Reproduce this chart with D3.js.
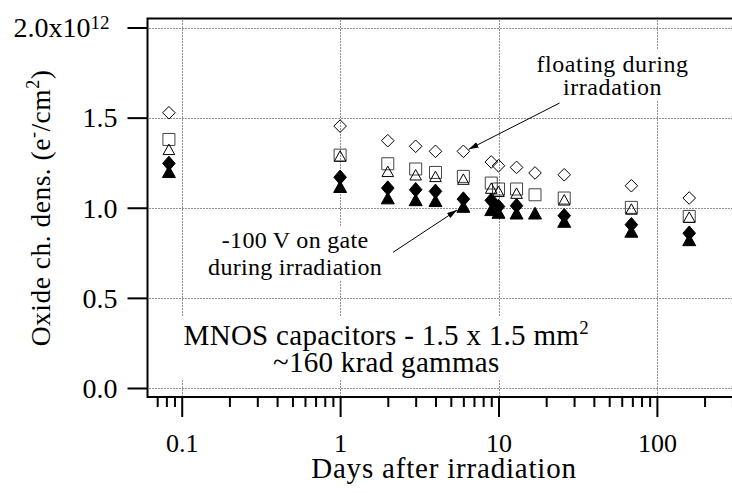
<!DOCTYPE html>
<html>
<head>
<meta charset="utf-8">
<script src="https://cdn.jsdelivr.net/npm/d3@7"></script>
<style>
  body { margin: 0; background: #fff; }
  svg text { font-family: "Liberation Serif", "Times New Roman", serif; fill: #000; }
</style>
</head>
<body>
<svg id="chart" width="732" height="493"></svg>
<script>
// days after irradiation (x) and oxide charge density in units of 1e12 e-/cm2
const days = [0.083, 1, 2, 3, 4, 6, 9, 10, 13, 17, 26, 69, 160];
const floatDiamond  = [1.527, 1.453, 1.372, 1.341, 1.313, 1.313, 1.254, 1.233, 1.224, 1.193, 1.183, 1.122, 1.054];
const floatSquare   = [1.379, 1.292, 1.244, 1.215, 1.196, 1.174, 1.137, 1.104, 1.104, 1.072, 1.054, 1.002, 0.952];
const floatTriangle = [1.324, 1.287, 1.202, 1.183, 1.174, 1.159, 1.109, 1.091, 1.081, null, 1.044, 0.993, 0.948];
const gateDiamond   = [1.246, 1.169, 1.109, 1.100, 1.091, 1.048, 1.041, 1.007, 1.011, null, 0.956, 0.906, 0.859];
const gateTriangle  = [1.200, 1.117, 1.054, 1.044, 1.039, 1.007, 0.989, 0.974, 0.970, 0.970, 0.924, 0.869, 0.822];

const xTicks = [0.1, 1, 10, 100];
const xTickLabels = ["0.1", "1", "10", "100"];
const xMinorTicks = [0.07, 0.08, 0.09, 0.2, 0.3, 0.4, 0.5, 0.6, 0.7, 0.8, 0.9,
  2, 3, 4, 5, 6, 7, 8, 9, 20, 30, 40, 50, 60, 70, 80, 90, 200, 300];
const yTicks = [0, 0.5, 1, 1.5, 2];
const yTickLabels = ["0.0", "0.5", "1.0", "1.5", "2.0x10"];

const svg = d3.select("#chart");
const plotL = 147.5, plotT = 18.5, plotR = 745, plotB = 397;

const x = d3.scaleLog().domain([0.0608, 360]).range([plotL, plotR]);
const y = d3.scaleLinear().domain([-0.05, 2.05]).range([plotB, plotT]);
const px = v => Math.round(v) + 0.5;

// dotted grid
const grid = svg.append("g")
  .attr("stroke", "#222")
  .attr("stroke-width", 1)
  .attr("stroke-dasharray", "1,2");
grid.selectAll("line.gx").data(xTicks).join("line").attr("class", "gx")
  .attr("x1", d => px(x(d))).attr("x2", d => px(x(d)))
  .attr("y1", plotT + 2).attr("y2", plotB);
grid.selectAll("line.gy").data(yTicks).join("line").attr("class", "gy")
  .attr("x1", plotL + 2).attr("x2", plotR)
  .attr("y1", d => px(y(d))).attr("y2", d => px(y(d)));

// text note with white box behind it (hides grid)
function note(cx, baselines, lines, size, spacing) {
  const g = svg.append("g");
  const t = g.append("text")
    .attr("text-anchor", "middle")
    .style("font-size", size + "px")
    .style("letter-spacing", spacing + "px");
  lines.forEach((ln, i) => {
    const ts = t.append("tspan").attr("x", x(cx)).attr("y", y(baselines[i]));
    if (typeof ln === "string") ts.text(ln);
    else {
      ts.text(ln[0]);
      t.append("tspan").attr("dy", -11).style("font-size", (size * 0.65) + "px").text(ln[1]);
    }
  });
  const b = t.node().getBBox();
  g.insert("rect", "text")
    .attr("x", b.x - 2).attr("y", b.y - 1)
    .attr("width", b.width + 4).attr("height", b.height + 2)
    .attr("fill", "#fff");
  return g;
}

note(52.5, [1.754, 1.625], ["floating during", "irradation"], 24, 0.6);
note(0.52, [0.776, 0.627], ["-100 V on gate", "during irradiation"], 24, 0.3);
note(1.955, [0.2385, 0.09], [["MNOS capacitors - 1.5 x 1.5 mm", "2"], "~160 krad gammas"], 29, 0.3);

// arrows
svg.append("defs").append("marker")
  .attr("id", "head").attr("viewBox", "0 0 10 6")
  .attr("refX", 10).attr("refY", 3)
  .attr("markerWidth", 10).attr("markerHeight", 6)
  .attr("markerUnits", "userSpaceOnUse")
  .attr("orient", "auto")
  .append("path").attr("d", "M0,0L10,3L0,6Z").attr("fill", "#000");

const arrows = [
  { from: [24.3, 1.581], to: [6.48, 1.324] },
  { from: [2.16, 0.753], to: [5.47, 0.987] }
];
svg.selectAll("line.arrow").data(arrows).join("line").attr("class", "arrow")
  .attr("x1", d => x(d.from[0])).attr("y1", d => y(d.from[1]))
  .attr("x2", d => x(d.to[0])).attr("y2", d => y(d.to[1]))
  .attr("stroke", "#000").attr("stroke-width", 1)
  .attr("marker-end", "url(#head)");

// marker shapes (size = half width)
const shapes = {
  diamond: { draw(c, r) { c.moveTo(0, -r); c.lineTo(r, 0); c.lineTo(0, r); c.lineTo(-r, 0); c.closePath(); } },
  square: { draw(c, r) { c.rect(-r, -r, 2 * r, 2 * r); } },
  triangle: { draw(c, r) { const h = r * 0.9; c.moveTo(0, -h); c.lineTo(r, h); c.lineTo(-r, h); c.closePath(); } },
  tallDiamond: { draw(c, r) { const h = r * 1.15; c.moveTo(0, -h); c.lineTo(r, 0); c.lineTo(0, h); c.lineTo(-r, 0); c.closePath(); } }
};

const series = [
  { values: gateTriangle, shape: shapes.triangle, r: 6.5, fill: "#000", stroke: "#000" },
  { values: gateDiamond, shape: shapes.tallDiamond, r: 6.3, fill: "#000", stroke: "#000" },
  { values: floatSquare, shape: shapes.square, r: 6, fill: "none", stroke: "#444" },
  { values: floatTriangle, shape: shapes.triangle, r: 5.8, fill: "none", stroke: "#000" },
  { values: floatDiamond, shape: shapes.diamond, r: 6.3, fill: "none", stroke: "#000" }
];

series.forEach(s => {
  const pts = days.map((d, i) => ({ d, v: s.values[i] })).filter(p => p.v != null);
  svg.append("g").selectAll("path").data(pts).join("path")
    .attr("transform", p => `translate(${x(p.d)},${y(p.v)})`)
    .attr("d", d3.symbol().type(s.shape).size(s.r))
    .attr("fill", s.fill)
    .attr("stroke", s.stroke)
    .attr("stroke-width", 1);
});

// frame
svg.append("path")
  .attr("d", `M${plotR},${plotT}H${plotL}V${plotB}H${plotR}`)
  .attr("fill", "none").attr("stroke", "#000").attr("stroke-width", 2);

// y axis
const yAxis = svg.append("g")
  .attr("transform", `translate(${plotL},0)`)
  .call(d3.axisLeft(y).tickValues(yTicks).tickSize(20).tickPadding(10)
    .tickFormat((d, i) => yTickLabels[i]));
yAxis.select(".domain").remove();
yAxis.selectAll(".tick line").attr("stroke", "#000").attr("stroke-width", 2);
yAxis.selectAll(".tick text")
  .attr("font-family", null)
  .style("font-size", "28px")
  .attr("dy", "0.33em");
yAxis.selectAll(".tick").filter(d => d === 2).select("text")
  .attr("x", -38)
  .append("tspan").attr("dy", "-0.45em").style("font-size", "19px").text("12");

// x axis, minor then major
const xMinor = svg.append("g")
  .attr("transform", `translate(0,${plotB})`)
  .call(d3.axisBottom(x).tickValues(xMinorTicks).tickSize(10).tickFormat(""));
xMinor.select(".domain").remove();
xMinor.selectAll(".tick line").attr("stroke", "#000").attr("stroke-width", 2);

const xAxis = svg.append("g")
  .attr("transform", `translate(0,${plotB})`)
  .call(d3.axisBottom(x).tickValues(xTicks).tickSize(20)
    .tickFormat((d, i) => xTickLabels[i]));
xAxis.select(".domain").remove();
xAxis.selectAll(".tick line").attr("stroke", "#000").attr("stroke-width", 2);
xAxis.selectAll(".tick text")
  .attr("font-family", null)
  .style("font-size", "26px")
  .attr("y", 55).attr("dy", 0);

// axis titles
svg.append("text")
  .attr("x", 444).attr("y", 478)
  .attr("text-anchor", "middle")
  .style("font-size", "29px").style("letter-spacing", "0.8px")
  .text("Days after irradiation");

const yt = svg.append("text")
  .attr("transform", "translate(50,208) rotate(-90)")
  .attr("text-anchor", "middle")
  .style("font-size", "27.5px").style("letter-spacing", "0.5px");
yt.append("tspan").text("Oxide ch. dens. (e");
yt.append("tspan").attr("dy", -11).style("font-size", "18px").text("-");
yt.append("tspan").attr("dy", 11).text("/cm");
yt.append("tspan").attr("dy", -11).style("font-size", "18px").text("2");
yt.append("tspan").attr("dy", 11).text(")");
</script>
</body>
</html>
